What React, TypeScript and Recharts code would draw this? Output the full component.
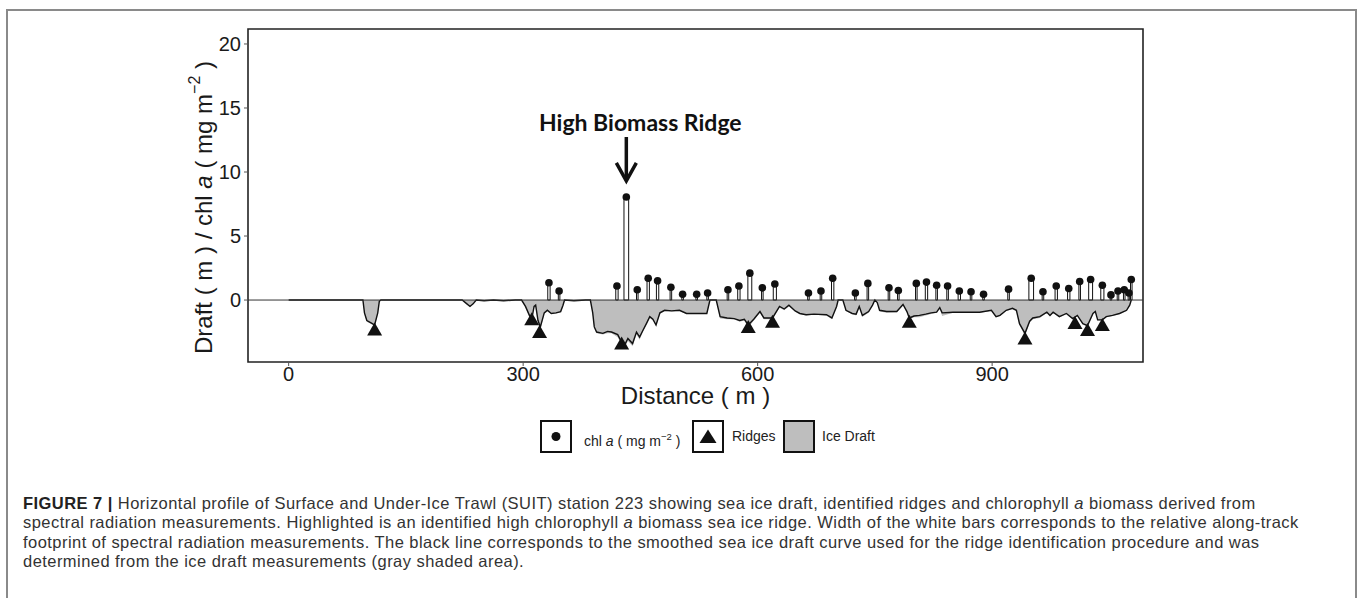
import React from "react";
import {
  ComposedChart,
  Area,
  Line,
  Scatter,
  XAxis,
  YAxis,
  ReferenceArea,
  ReferenceLine,
  ReferenceDot,
  Legend,
} from "recharts";

// ice draft profile (distance in m, draft in m, negative = below surface)
const draftDist = [
  0, 40, 80, 95, 97, 100, 106, 110, 114, 116, 118, 160, 200, 222, 228, 232, 236, 240, 250, 262, 275, 290,
  298, 303, 308, 311, 314, 316, 319, 322, 327, 331, 336, 342, 348, 351, 353, 365, 380, 386, 389, 391, 394,
  402, 408, 413, 421, 426, 430, 434, 440, 445, 449, 453, 458, 462, 466, 470, 475, 481, 490, 500, 509, 520,
  535, 539, 547, 552, 561, 570, 577, 583, 588, 595, 603, 608, 619, 628, 634, 640, 648, 654, 662, 672, 688,
  695, 701, 703, 709, 713, 721, 726, 730, 734, 742, 747, 750, 753, 756, 765, 778, 786, 791, 794, 800, 807,
  815, 822, 829, 833, 836, 850, 867, 884, 899, 905, 910, 918, 926, 931, 935, 942, 948, 952, 961, 970, 974,
  978, 986, 995, 1003, 1009, 1016, 1022, 1029, 1032, 1035, 1041, 1046, 1054, 1063, 1072, 1076, 1078,
];
const draftSmooth = [
  0, 0, 0, 0, -1.0, -1.6, -1.8, -1.95, -1.0, -0.1, 0, 0, 0, 0, -0.3, -0.5, -0.3, 0, -0.05, 0, -0.05, 0,
  0, -0.5, -1.2, -1.5, -0.5, -0.4, -1.6, -2.1, -1.0, -0.8, -1.05, -1.0, -0.9, -0.4, 0, -0.05, 0, 0, -1.0, -2.1, -2.5,
  -2.6, -2.45, -2.5, -2.7, -3.3, -3.5, -3.0, -3.4, -2.5, -2.9, -2.4, -1.8, -1.3, -1.5, -1.95, -1.0, -0.8, -0.85, -0.8, -1.05, -1.05,
  -1.05, 0, 0, -1.3, -1.4, -1.45, -1.6, -1.5, -1.95, -1.5, -0.9, -1.4, -1.4, -0.5, -0.7, -0.4, -0.85, -1.05, -1.15, -1.1, -1.15,
  -1.4, -0.5, 0, 0, -0.8, -1.05, -1.1, -0.5, -1.2, -0.9, -0.4, 0, -0.2, -0.8, -0.9, -0.9, -0.35, -0.9, -1.4, -1.25, -1.2,
  -1.1, -1.0, -0.95, -0.6, -1.0, -0.95, -0.95, -0.95, -0.8, -1.3, -1.2, -0.8, -0.65, -0.8, -1.85, -2.6, -1.65, -1.4, -1.3, -0.95, -1.2,
  -0.95, -1.3, -1.05, -1.45, -1.2, -1.85, -2.0, -1.05, -0.9, -1.55, -1.55, -1.3, -1.2, -1.05, -0.8, -0.4, 0,
];
const draftRaw = [
  0, 0, 0, 0, -1.1, -1.7, -1.9, -2.0, -1.1, -0.1, 0, 0, 0, 0, -0.3, -0.55, -0.3, 0, -0.05, 0, -0.05, 0,
  0, -0.6, -1.3, -1.6, -0.6, -0.5, -1.8, -2.3, -1.1, -0.9, -1.1, -1.05, -0.95, -0.45, 0, -0.05, 0, 0, -1.1, -2.2, -2.6,
  -2.7, -2.6, -2.6, -2.9, -3.5, -3.7, -3.2, -3.6, -2.7, -3.1, -2.5, -1.9, -1.4, -1.6, -2.0, -1.1, -0.85, -0.9, -0.85, -1.1, -1.1,
  -1.1, 0, 0, -1.45, -1.5, -1.5, -1.7, -1.6, -2.2, -1.6, -1.0, -1.5, -1.5, -0.6, -0.8, -0.5, -0.9, -1.1, -1.2, -1.15, -1.2,
  -1.5, -0.55, 0, 0, -0.85, -1.1, -1.2, -0.6, -1.3, -1.0, -0.45, 0, -0.2, -0.9, -1.0, -0.95, -0.4, -1.0, -1.5, -1.35, -1.35,
  -1.2, -1.1, -1.0, -0.65, -1.25, -1.0, -1.0, -1.0, -0.85, -1.35, -1.25, -0.85, -0.7, -0.85, -1.95, -2.8, -1.75, -1.5, -1.4, -1.0, -1.25,
  -1.0, -1.35, -1.1, -1.5, -1.25, -1.9, -2.1, -1.1, -0.95, -1.6, -1.6, -1.35, -1.25, -1.1, -0.85, -0.45, 0,
];

// chlorophyll a from spectral radiation (distance m, mg m-2, footprint m)
const chlDist = [
  333, 346, 420, 432, 446, 460, 472, 489, 504, 522, 536, 562, 576, 590, 606, 622, 665, 681, 696, 725, 741,
  768, 780, 803, 816, 829, 843, 858, 873, 889, 921, 950, 965, 982, 998, 1012, 1026, 1041, 1052, 1061, 1069,
  1075, 1078,
];
const chlValue = [
  1.35, 0.7, 1.1, 8.05, 0.8, 1.7, 1.5, 1.0, 0.45, 0.45, 0.55, 0.8, 1.1, 2.1, 0.95, 1.25, 0.55, 0.7, 1.7, 0.55, 1.3,
  0.95, 0.75, 1.3, 1.4, 1.15, 1.1, 0.7, 0.65, 0.45, 0.85, 1.7, 0.65, 1.1, 0.9, 1.45, 1.6, 1.15, 0.4, 0.7, 0.8,
  0.55, 1.6,
];
const chlFootprint = [
  3, 2, 3, 6, 2, 3, 3, 2, 2, 2, 2, 2, 3, 5, 2, 4, 2, 2, 3, 2, 2,
  2, 2, 2, 3, 2, 2, 3, 2, 2, 2, 6, 2, 3, 3, 2, 5, 4, 2, 2, 2,
  2, 2,
];

// identified ridges
const ridgeDist = [110, 311, 321, 426, 588, 619, 794, 942, 1006, 1022, 1041];
const ridgeDepth = [-2.3, -1.5, -2.5, -3.4, -2.1, -1.7, -1.7, -3.0, -1.8, -2.35, -1.95];

const xTicks = [0, 300, 600, 900];
const yTicks = [0, 5, 10, 15, 20];

const captionLines = [
  "Horizontal profile of Surface and Under-Ice Trawl (SUIT) station 223 showing sea ice draft, identified ridges and chlorophyll |a| biomass derived from",
  "spectral radiation measurements. Highlighted is an identified high chlorophyll |a| biomass sea ice ridge. Width of the white bars corresponds to the relative along-track",
  "footprint of spectral radiation measurements. The black line corresponds to the smoothed sea ice draft curve used for the ridge identification procedure and was",
  "determined from the ice draft measurements (gray shaded area).",
];

const draftData = draftDist.map((x, i) => ({ x, raw: draftRaw[i], smooth: draftSmooth[i] }));
const chlData = chlDist.map((x, i) => ({ x, y: chlValue[i], w: chlFootprint[i] }));
const ridgeData = ridgeDist.map((x, i) => ({ x, y: ridgeDepth[i] }));

const X_DOMAIN: [number, number] = [-52, 1093];
const Y_DOMAIN: [number, number] = [-4.84, 21.17];
const FONT = "'Liberation Sans', Arial, sans-serif";

const Dot = (props: any) => {
  const { cx, cy } = props;
  if (cx == null || cy == null) return null;
  return <circle cx={cx} cy={cy} r={3.8} fill="#111" />;
};

const Tri = (props: any) => {
  const { cx, cy } = props;
  if (cx == null || cy == null) return null;
  return <polygon points={`${cx},${cy - 7} ${cx - 7.5},${cy + 6} ${cx + 7.5},${cy + 6}`} fill="#111" />;
};

const Annotation = (props: any) => {
  const { cx, cy } = props;
  if (cx == null || cy == null) return null;
  const tip = cy - 15;
  return (
    <g>
      <text
        x={cx + 14}
        y={cy - 75}
        textAnchor="middle"
        dominantBaseline="central"
        fontFamily="Lato, 'Open Sans', sans-serif"
        fontWeight={700}
        fontSize={23}
        fill="#111"
      >
        High Biomass Ridge
      </text>
      <line x1={cx} y1={cy - 60} x2={cx} y2={tip - 2} stroke="#111" strokeWidth={3.5} />
      <path
        d={`M${cx - 10},${tip - 19} L${cx},${tip - 1} L${cx + 10},${tip - 19}`}
        fill="none"
        stroke="#111"
        strokeWidth={3.5}
      />
    </g>
  );
};

const YLabel = (props: any) => {
  const vb = props.viewBox || {};
  const x = vb.x + 15;
  const y = vb.y + vb.height / 2 + 12;
  return (
    <text
      x={x}
      y={y}
      transform={`rotate(-90, ${x}, ${y})`}
      textAnchor="middle"
      dominantBaseline="central"
      fontFamily={FONT}
      fontSize={24}
      fill="#1a1a1a"
    >
      Draft ( m ) / chl <tspan fontStyle="italic">a</tspan> ( mg m
      <tspan dy={-9} fontSize={16}>
        −2
      </tspan>
      <tspan dy={9}> )</tspan>
    </text>
  );
};

const XLabel = (props: any) => {
  const vb = props.viewBox || {};
  return (
    <text
      x={vb.x + vb.width / 2}
      y={vb.y + 33}
      textAnchor="middle"
      dominantBaseline="central"
      fontFamily={FONT}
      fontSize={24}
      fill="#1a1a1a"
    >
      Distance ( m )
    </text>
  );
};

const boxStyle: React.CSSProperties = {
  position: "absolute",
  top: 0,
  width: 32,
  height: 33,
  boxSizing: "border-box",
  border: "2px solid #111",
  background: "#fff",
};
const legendText: React.CSSProperties = {
  position: "absolute",
  top: 0,
  height: 33,
  lineHeight: "33px",
  fontFamily: FONT,
  fontSize: 14,
  color: "#222",
  whiteSpace: "nowrap",
};

const LegendContent = () => (
  <div style={{ position: "relative", width: 1358, height: 34 }}>
    <div style={{ ...boxStyle, left: 540 }}>
      <svg width={28} height={29}>
        <circle cx={14} cy={14.5} r={4.5} fill="#111" />
      </svg>
    </div>
    <div style={{ ...legendText, left: 584 }}>
      chl <i>a</i> ( mg m<sup style={{ fontSize: 9.5, verticalAlign: 6 }}>−2</sup> )
    </div>
    <div style={{ ...boxStyle, left: 692 }}>
      <svg width={28} height={29}>
        <polygon points="14,7.5 5.5,21 22.5,21" fill="#111" />
      </svg>
    </div>
    <div style={{ ...legendText, left: 732 }}>Ridges</div>
    <div style={{ ...boxStyle, left: 783, background: "#bebebe" }} />
    <div style={{ ...legendText, left: 822 }}>Ice Draft</div>
  </div>
);

const renderCaptionLine = (line: string, i: number) => {
  const parts = line.split("|");
  return (
    <div key={i} style={{ whiteSpace: "nowrap", height: 19.4, lineHeight: "19.4px" }}>
      {i === 0 && <b style={{ color: "#222" }}>FIGURE 7 | </b>}
      {parts.map((p, j) => (j % 2 === 1 ? <i key={j}>{p}</i> : <span key={j}>{p}</span>))}
    </div>
  );
};

export default function App() {
  return (
    <div
      style={{
        position: "absolute",
        left: 0,
        top: 0,
        width: 1358,
        height: 598,
        overflow: "hidden",
        background: "#fff",
      }}
    >
      <div
        style={{
          position: "absolute",
          left: 6,
          top: 9,
          width: 1347,
          height: 600,
          border: "2px solid #8a8a8a",
          borderBottom: "none",
        }}
      />
      <div style={{ position: "absolute", left: 0, top: 0 }}>
        <ComposedChart width={1358} height={470} margin={{ top: 29, right: 215, bottom: 16, left: 188 }}>
          <XAxis
            dataKey="x"
            type="number"
            domain={X_DOMAIN}
            allowDataOverflow
            ticks={xTicks}
            height={58}
            axisLine={false}
            tickSize={4}
            tickMargin={1}
            tickLine={{ stroke: "#555" }}
            tick={{ fontSize: 20, fill: "#1a1a1a", fontFamily: FONT }}
            label={<XLabel />}
          />
          <YAxis
            type="number"
            domain={Y_DOMAIN}
            allowDataOverflow
            ticks={yTicks}
            width={60}
            axisLine={false}
            tickSize={4}
            tickMargin={3}
            tickLine={{ stroke: "#555" }}
            tick={{ fontSize: 20, fill: "#1a1a1a", fontFamily: FONT }}
            label={<YLabel />}
          />
          <Area
            data={draftData}
            dataKey="raw"
            type="linear"
            baseValue={0}
            fill="#bebebe"
            fillOpacity={1}
            stroke="none"
            isAnimationActive={false}
          />
          <Line
            data={draftData}
            dataKey="smooth"
            type="linear"
            stroke="#111"
            strokeWidth={1.4}
            dot={false}
            isAnimationActive={false}
          />
          <ReferenceLine y={0} stroke="#333" strokeWidth={1} />
          {chlData.map((d, i) => (
            <ReferenceArea
              key={i}
              x1={d.x - d.w / 2}
              x2={d.x + d.w / 2}
              y1={0}
              y2={d.y}
              fill="#fff"
              fillOpacity={1}
              stroke="#111"
              strokeWidth={1}
            />
          ))}
          <ReferenceArea
            x1={X_DOMAIN[0]}
            x2={X_DOMAIN[1]}
            y1={Y_DOMAIN[0]}
            y2={Y_DOMAIN[1]}
            fill="none"
            stroke="#222"
            strokeWidth={1.6}
            ifOverflow="visible"
          />
          <Scatter data={chlData} dataKey="y" shape={<Dot />} isAnimationActive={false} />
          <Scatter data={ridgeData} dataKey="y" shape={<Tri />} isAnimationActive={false} />
          <ReferenceDot x={432} y={8.05} shape={<Annotation />} ifOverflow="visible" />
          <Legend verticalAlign="bottom" wrapperStyle={{ left: 0, width: 1358 }} content={<LegendContent />} />
        </ComposedChart>
      </div>
      <div
        style={{
          position: "absolute",
          left: 23,
          top: 494,
          fontFamily: FONT,
          fontSize: 16.5,
          letterSpacing: 0.45,
          color: "#333",
        }}
      >
        {captionLines.map(renderCaptionLine)}
      </div>
    </div>
  );
}
